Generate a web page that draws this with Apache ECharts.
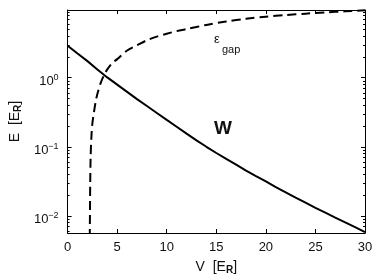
<!DOCTYPE html>
<html><head><meta charset="utf-8">
<script src="https://cdn.jsdelivr.net/npm/echarts@6/dist/echarts.min.js"></script>
<style>html,body{margin:0;padding:0;background:#fff}#c{width:382px;height:280px}</style>
</head><body><div id="c"></div>
<script>
// W (solid): V [E_R] and E [E_R]
const wV = [0,1,2,3,4,5,6,7,8,9,10,11,12,13,14,15,16,17,18,19,20,21,22,23,24,25,26,27,28,29,30];
const wE = [2.91,2.24,1.74,1.32,1.01,0.794,0.624,0.490,0.389,0.309,0.245,0.195,0.155,0.124,0.100,0.0813,0.0668,0.0550,0.0452,0.0376,0.0316,0.0260,0.0219,0.0184,0.0155,0.0130,0.0111,0.00944,0.00804,0.00684,0.00582];
// eps_gap (dashed)
const gV = [2.22,2.25,2.28,2.32,2.4,2.5,2.65,2.85,3.07,3.35,3.65,4.0,4.5,5,6,7,8,9,10,11,12,14,16,18,20,22,24,26,28,30];
const gE = [0.003,0.009,0.03,0.07,0.14,0.22,0.31,0.47,0.63,0.85,1.07,1.32,1.63,1.86,2.48,2.95,3.49,3.94,4.34,4.73,5.07,5.82,6.53,7.13,7.66,8.09,8.47,8.83,9.16,9.46];
const xTicks = [0,5,10,15,20,25,30];

const chart = echarts.init(document.getElementById('c'));
const font = 'Liberation Sans, Arial, sans-serif';
function yFmt(v){
  const l = Math.log10(v), r = Math.round(l);
  if (Math.abs(l - r) > 1e-6) return '';
  return '{b|10}{s|' + (r < 0 ? '\u2212' + (-r) : r) + '}';
}
const axisCommon = {
  axisLine: {show: true, onZero: false, lineStyle: {color: '#000', width: 1}},
  axisTick: {show: true, inside: true, length: 4, lineStyle: {color: '#000'}},
  splitLine: {show: false}
};
chart.setOption({
  animation: false,
  backgroundColor: '#fff',
  grid: {left: 67, top: 10, width: 298, height: 223.5},
  xAxis: [
    Object.assign({type: 'value', min: 0, max: 30, interval: 5, position: 'bottom',
      axisLabel: {color: '#111', fontSize: 13, fontFamily: font, margin: 8,
        formatter: v => (xTicks.indexOf(v) >= 0 ? String(v) : '')},
      name: '{n|V  [E}{sub|R}{n|]}', nameLocation: 'middle', nameGap: 26,
      nameTextStyle: {rich: {n: {fontSize: 14, fontFamily: font, color: '#111'},
        sub: {fontSize: 10, fontFamily: font, fontWeight: 'bold', color: '#111', padding: [6,0,0,0]}}}
    }, axisCommon),
    Object.assign({type: 'value', min: 0, max: 30, interval: 5, position: 'top',
      axisLabel: {show: false}}, axisCommon)
  ],
  yAxis: [
    Object.assign({type: 'log', logBase: 10, min: 0.00564, max: 9.57, position: 'left',
      minorTick: {show: true, splitNumber: 9, length: 2, lineStyle: {color: '#000'}},
      axisLabel: {color: '#111', fontFamily: font, margin: 9, showMinLabel: false, showMaxLabel: false,
        formatter: yFmt,
        rich: {b: {fontSize: 13, fontFamily: font, color: '#111', padding: [8,0,0,0]},
               s: {fontSize: 9, fontFamily: font, color: '#111'}}},
      name: '{n|E  [E}{sub|R}{n|]}', nameLocation: 'middle', nameGap: 44,
      nameTextStyle: {rich: {n: {fontSize: 14, fontFamily: font, color: '#111'},
        sub: {fontSize: 10, fontFamily: font, fontWeight: 'bold', color: '#111', padding: [6,0,0,0]}}}
    }, axisCommon),
    Object.assign({type: 'log', logBase: 10, min: 0.00564, max: 9.57, position: 'right',
      minorTick: {show: true, splitNumber: 9, length: 2, lineStyle: {color: '#000'}},
      axisLabel: {show: false}}, axisCommon)
  ],
  series: [
    {type: 'line', name: 'W', xAxisIndex: 0, yAxisIndex: 0, showSymbol: false, symbol: 'none',
     clip: true, lineStyle: {color: '#000', width: 2},
     data: wV.map((v, i) => [v, wE[i]])},
    {type: 'line', name: 'gap', xAxisIndex: 0, yAxisIndex: 0, showSymbol: false, symbol: 'none',
     clip: true, smooth: 0.3, lineStyle: {color: '#000', width: 2, type: [9, 5]},
     data: gV.map((v, i) => [v, gE[i]])}
  ],
  graphic: [
    {type: 'text', left: 214, top: 119, style: {text: 'W', fontSize: 19, fontWeight: 'bold', fontFamily: font, fill: '#111'}},
    {type: 'text', left: 214, top: 33, style: {text: '{e|\u03b5}\n{g|gap}', rich: {
      e: {fontSize: 13, fontFamily: font, fill: '#111', lineHeight: 9},
      g: {fontSize: 11, fontFamily: font, fill: '#111', padding: [0,0,0,8], lineHeight: 11}}}}
  ]
});
</script></body></html>
